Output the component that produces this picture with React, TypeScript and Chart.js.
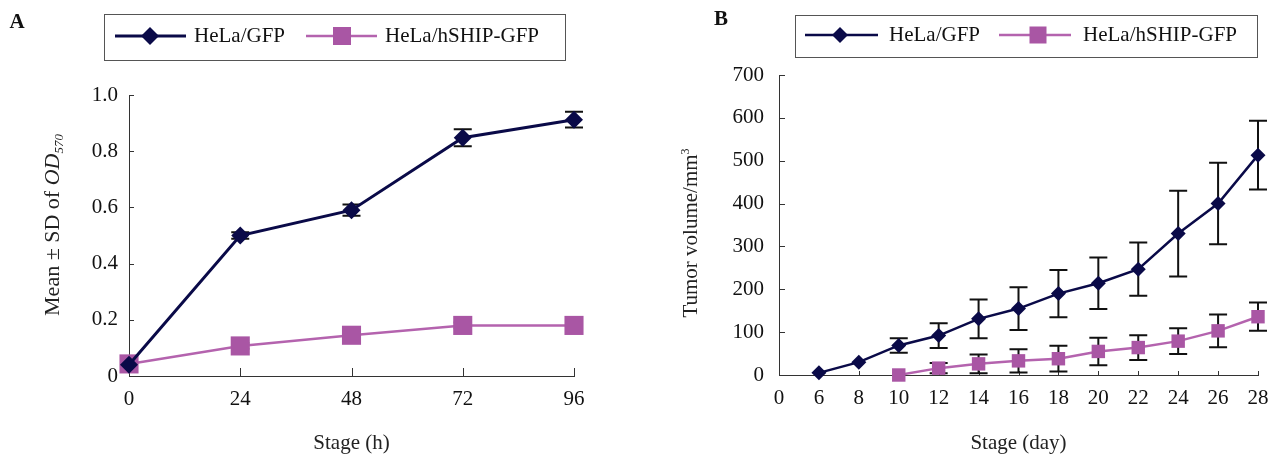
import React, { useEffect, useRef } from 'react';
import { Chart, registerables } from 'chart.js';

Chart.register(...registerables);

const NAVY = '#0a0a48';
const PINK = '#a956a4';
const PINK_LINE = '#b463ae';
const AXIS = '#333333';
const FONT = '"Liberation Serif", "Times New Roman", serif';

// Panel A: MTT assay
const hourLabels = ['0', '24', '48', '72', '96'];
const gfpOD = [0.04, 0.5, 0.59, 0.848, 0.912];
const gfpODsd = [0.005, 0.012, 0.02, 0.03, 0.028];
const shipOD = [0.043, 0.107, 0.145, 0.18, 0.18];
const shipODsd = [0.005, 0.01, 0.01, 0.01, 0.01];

// Panel B: tumor volume
const dayLabels = ['0', '6', '8', '10', '12', '14', '16', '18', '20', '22', '24', '26', '28'];
const gfpVol = [null, 5, 30, 69, 92, 131, 155, 190, 214, 247, 330, 400, 513];
const gfpVolSd = [null, 0, 0, 17, 29, 45, 50, 55, 60, 62, 100, 95, 80];
const shipVol = [null, null, null, 0, 16, 26, 33, 38, 55, 64, 79, 103, 136];
const shipVolSd = [null, null, null, 0, 12, 22, 27, 30, 32, 29, 30, 38, 33];

const seriesNames = ['HeLa/GFP', 'HeLa/hSHIP-GFP'];

type Cfg = {
  labels: string[];
  data: (number | null)[][];
  sd: (number | null)[][];
  yMax: number;
  yStep: number;
  yFmt: (v: number) => string;
  area: { left: number; right: number; top: number; bottom: number };
  yPad: number;
  xPad: number;
  xTickLen: number;
  yTickLen: number;
  capHalf: number;
  diamondR: number;
  squareR: number;
  navyWidth: number;
  pinkWidth: number;
  letter: { text: string; x: number; y: number };
  legend: {
    box: [number, number, number, number];
    cy: number;
    items: { l0: number; l1: number; mx: number; tx: number }[];
    dR: number;
    sH: number;
  };
  yTitle: { x: number; y: number; kind: 'od' | 'vol' };
  xTitle: { text: string; y: number };
};

function diamond(ctx: CanvasRenderingContext2D, x: number, y: number, r: number) {
  ctx.beginPath();
  ctx.moveTo(x - r, y);
  ctx.lineTo(x, y - r);
  ctx.lineTo(x + r, y);
  ctx.lineTo(x, y + r);
  ctx.closePath();
  ctx.fill();
}

function makePlugin(cfg: Cfg) {
  return {
    id: 'panelExtras',
    beforeDatasetsDraw(chart: any) {
      const ctx: CanvasRenderingContext2D = chart.ctx;
      const xs = chart.scales.x;
      const ys = chart.scales.y;
      const ca = chart.chartArea;
      ctx.save();
      // inward tick marks
      ctx.strokeStyle = AXIS;
      ctx.lineWidth = 1;
      xs.ticks.forEach((_t: any, i: number) => {
        const x = Math.round(xs.getPixelForTick(i)) + 0.5;
        ctx.beginPath();
        ctx.moveTo(x, ca.bottom);
        ctx.lineTo(x, ca.bottom - cfg.xTickLen);
        ctx.stroke();
      });
      ys.ticks.forEach((_t: any, i: number) => {
        const y = Math.round(ys.getPixelForTick(i)) + 0.5;
        ctx.beginPath();
        ctx.moveTo(ca.left, y);
        ctx.lineTo(ca.left + cfg.yTickLen, y);
        ctx.stroke();
      });
      // error bars
      ctx.strokeStyle = '#111111';
      ctx.lineWidth = 2;
      cfg.data.forEach((series, di) => {
        const meta = chart.getDatasetMeta(di);
        series.forEach((v, j) => {
          const e = cfg.sd[di][j];
          if (v === null || e === null || !e) return;
          const x = meta.data[j].x;
          const yt = ys.getPixelForValue(v + e);
          const yb = ys.getPixelForValue(v - e);
          ctx.beginPath();
          ctx.moveTo(x, yt);
          ctx.lineTo(x, yb);
          ctx.moveTo(x - cfg.capHalf, yt);
          ctx.lineTo(x + cfg.capHalf, yt);
          ctx.moveTo(x - cfg.capHalf, yb);
          ctx.lineTo(x + cfg.capHalf, yb);
          ctx.stroke();
        });
      });
      ctx.restore();
    },
    afterDraw(chart: any) {
      const ctx: CanvasRenderingContext2D = chart.ctx;
      const ca = chart.chartArea;
      ctx.save();
      // panel letter
      ctx.fillStyle = '#111';
      ctx.font = `bold 21px ${FONT}`;
      ctx.textAlign = 'center';
      ctx.textBaseline = 'middle';
      ctx.fillText(cfg.letter.text, cfg.letter.x, cfg.letter.y);

      // legend
      const lg = cfg.legend;
      const [bx0, by0, bx1, by1] = lg.box;
      ctx.strokeStyle = '#555';
      ctx.lineWidth = 1;
      ctx.strokeRect(bx0 + 0.5, by0 + 0.5, bx1 - bx0, by1 - by0);
      lg.items.forEach((it, k) => {
        const col = k === 0 ? NAVY : PINK;
        ctx.strokeStyle = k === 0 ? NAVY : PINK_LINE;
        ctx.lineWidth = k === 0 ? cfg.navyWidth : cfg.pinkWidth;
        ctx.beginPath();
        ctx.moveTo(it.l0, lg.cy);
        ctx.lineTo(it.l1, lg.cy);
        ctx.stroke();
        ctx.fillStyle = col;
        if (k === 0) diamond(ctx, it.mx, lg.cy, lg.dR);
        else ctx.fillRect(it.mx - lg.sH, lg.cy - lg.sH, lg.sH * 2, lg.sH * 2);
        ctx.fillStyle = '#111';
        ctx.font = `21px ${FONT}`;
        ctx.textAlign = 'left';
        ctx.textBaseline = 'middle';
        ctx.fillText(seriesNames[k], it.tx, lg.cy);
      });

      // x title
      ctx.fillStyle = '#222';
      ctx.font = `21px ${FONT}`;
      ctx.textAlign = 'center';
      ctx.textBaseline = 'middle';
      ctx.fillText(cfg.xTitle.text, (ca.left + ca.right) / 2, cfg.xTitle.y);

      // y title (rotated, mixed styles)
      ctx.translate(cfg.yTitle.x, cfg.yTitle.y);
      ctx.rotate(-Math.PI / 2);
      ctx.textAlign = 'left';
      ctx.textBaseline = 'alphabetic';
      const parts: { t: string; f: string; dy: number }[] =
        cfg.yTitle.kind === 'od'
          ? [
              { t: 'Mean \u00b1 SD of ', f: `22px ${FONT}`, dy: 7 },
              { t: 'OD', f: `italic 22px ${FONT}`, dy: 7 },
              { t: '570', f: `italic 13px ${FONT}`, dy: 11 },
            ]
          : [
              { t: 'Tumor volume/mm', f: `21px ${FONT}`, dy: 7 },
              { t: '3', f: `12px ${FONT}`, dy: -1 },
            ];
      let total = 0;
      parts.forEach((p) => {
        ctx.font = p.f;
        total += ctx.measureText(p.t).width;
      });
      let x = -total / 2;
      parts.forEach((p) => {
        ctx.font = p.f;
        ctx.fillText(p.t, x, p.dy);
        x += ctx.measureText(p.t).width;
      });
      ctx.restore();
    },
  };
}

function Panel({ cfg }: { cfg: Cfg }) {
  const ref = useRef<HTMLCanvasElement | null>(null);
  useEffect(() => {
    if (!ref.current) return;
    const tickFont = { family: FONT, size: 21 };
    const chart = new Chart(ref.current, {
      type: 'line',
      data: {
        labels: cfg.labels,
        datasets: [
          {
            label: seriesNames[0],
            data: cfg.data[0],
            borderColor: NAVY,
            backgroundColor: NAVY,
            borderWidth: cfg.navyWidth,
            pointStyle: 'rectRot',
            pointRadius: cfg.diamondR,
            pointBackgroundColor: NAVY,
            pointBorderWidth: 0,
            tension: 0,
            clip: false,
          },
          {
            label: seriesNames[1],
            data: cfg.data[1],
            borderColor: PINK_LINE,
            backgroundColor: PINK,
            borderWidth: cfg.pinkWidth,
            pointStyle: 'rect',
            pointRadius: cfg.squareR,
            pointBackgroundColor: PINK,
            pointBorderWidth: 0,
            tension: 0,
            clip: false,
          },
        ],
      },
      options: {
        responsive: false,
        animation: false,
        devicePixelRatio: 1,
        layout: {
          padding: { left: 0, right: 640 - cfg.area.right, top: cfg.area.top, bottom: 0 },
        },
        plugins: {
          legend: { display: false },
          tooltip: { enabled: false },
          title: { display: false },
        },
        scales: {
          x: {
            type: 'category',
            offset: false,
            grid: { display: true, drawOnChartArea: false, drawTicks: false },
            border: { display: true, color: AXIS, width: 1 },
            ticks: {
              color: '#111',
              font: tickFont,
              padding: cfg.xPad,
              autoSkip: false,
              maxRotation: 0,
            },
            afterFit: (s: any) => {
              s.height = 459 - cfg.area.bottom;
            },
          },
          y: {
            min: 0,
            max: cfg.yMax,
            grid: { display: true, drawOnChartArea: false, drawTicks: false },
            border: { display: true, color: AXIS, width: 1 },
            ticks: {
              stepSize: cfg.yStep,
              color: '#111',
              font: tickFont,
              padding: cfg.yPad,
              callback: (v: any) => cfg.yFmt(Number(v)),
            },
            afterFit: (s: any) => {
              s.width = cfg.area.left;
            },
          },
        },
      } as any,
      plugins: [makePlugin(cfg)],
    });
    return () => chart.destroy();
  }, [cfg]);
  return <canvas ref={ref} width={640} height={459} style={{ display: 'block', width: 640, height: 459 }} />;
}

const cfgA: Cfg = {
  labels: hourLabels,
  data: [gfpOD, shipOD],
  sd: [gfpODsd, shipODsd],
  yMax: 1.0,
  yStep: 0.2,
  yFmt: (v) => (v === 0 ? '0' : v.toFixed(1)),
  area: { left: 129, right: 574, top: 95, bottom: 376 },
  yPad: 11,
  xPad: 11,
  xTickLen: 8,
  yTickLen: 5,
  capHalf: 9,
  diamondR: 9,
  squareR: 13.5,
  navyWidth: 3,
  pinkWidth: 2.5,
  letter: { text: 'A', x: 17, y: 23 },
  legend: {
    box: [104, 14, 565, 60],
    cy: 36,
    items: [
      { l0: 115, l1: 186, mx: 150, tx: 194 },
      { l0: 306, l1: 377, mx: 342, tx: 385 },
    ],
    dR: 9,
    sH: 9,
  },
  yTitle: { x: 52, y: 225, kind: 'od' },
  xTitle: { text: 'Stage (h)', y: 443 },
};

const cfgB: Cfg = {
  labels: dayLabels,
  data: [gfpVol, shipVol],
  sd: [gfpVolSd, shipVolSd],
  yMax: 700,
  yStep: 100,
  yFmt: (v) => String(v),
  area: { left: 139, right: 618, top: 75, bottom: 375 },
  yPad: 15,
  xPad: 11,
  xTickLen: 4,
  yTickLen: 6,
  capHalf: 9,
  diamondR: 7.5,
  squareR: 9.5,
  navyWidth: 2.5,
  pinkWidth: 2.5,
  letter: { text: 'B', x: 81, y: 20 },
  legend: {
    box: [155, 15, 617, 57],
    cy: 35,
    items: [
      { l0: 165, l1: 238, mx: 200, tx: 249 },
      { l0: 359, l1: 431, mx: 398, tx: 443 },
    ],
    dR: 8,
    sH: 8.5,
  },
  yTitle: { x: 50, y: 233, kind: 'vol' },
  xTitle: { text: 'Stage (day)', y: 443 },
};

export default function App() {
  return (
    <div
      style={{
        position: 'absolute',
        left: 0,
        top: 0,
        width: 1280,
        height: 459,
        display: 'flex',
        background: '#fff',
      }}
    >
      <Panel cfg={cfgA} />
      <Panel cfg={cfgB} />
    </div>
  );
}
